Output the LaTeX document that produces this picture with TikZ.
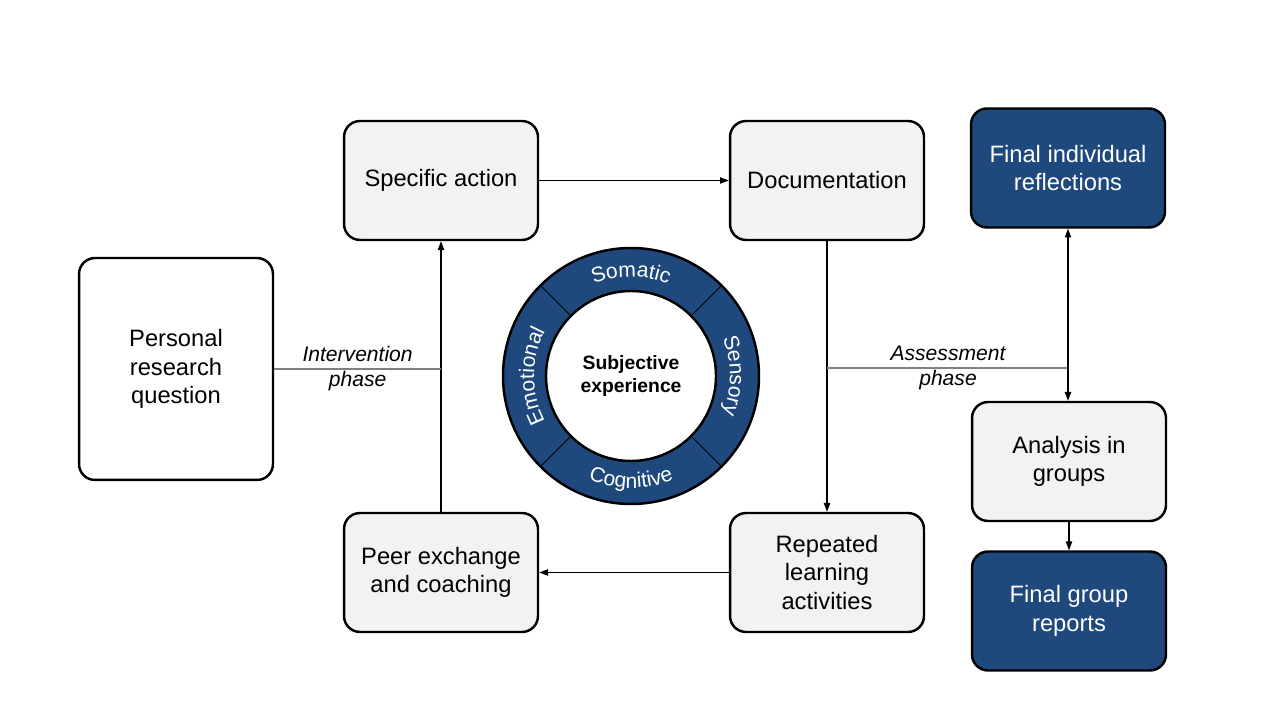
\documentclass[tikz,border=0pt]{standalone}
\usepackage{fontspec}
\setmainfont{Liberation Sans}
\usetikzlibrary{arrows.meta,decorations.text}

\definecolor{navyfill}{RGB}{31,73,125}
\definecolor{boxgray}{RGB}{242,242,242}
\definecolor{phasegray}{RGB}{128,128,128}

\begin{document}
\begin{tikzpicture}[x=0.02cm, y=0.02cm,
		stagebox/.style={draw=black, line width=1.4pt, rounded corners=0.32cm, fill=boxgray,
			minimum width=3.88cm, minimum height=2.38cm, align=center,
			font=\fontsize{13.5}{16.2}\selectfont},
		finalbox/.style={stagebox, fill=navyfill, text=white},
		flow/.style={-{Triangle[length=5pt, width=3.6pt]}, line width=0.6pt},
		phaseline/.style={draw=phasegray, line width=0.9pt},
		phaselabel/.style={align=center, font=\itshape\fontsize{12}{14.2}\selectfont}]
		\useasboundingbox (0,0) rectangle (1280,720);

		\node[stagebox, fill=white, minimum height=4.44cm] (prq) at (176,351) {Personal\\research\\question};
		\node[stagebox] (spec) at (441,539.5) {Specific action};
		\node[stagebox] (doc) at (827,539.5) {Documentation};
		\node[stagebox] (peer) at (441,147.5) {Peer exchange\\and coaching};
		\node[stagebox] (rep) at (827,147.5) {Repeated\\learning\\activities};
		\node[finalbox] (fir) at (1068,552) {Final individual\\reflections};
		\node[stagebox] (ana) at (1069,258.5) {Analysis in\\groups};
		\node[finalbox] (fgr) at (1069,109) {Final group\\reports};

		% ring of experience
		\coordinate (ring) at (631,344);
		\fill[navyfill] (ring) circle[radius=128];
		\draw[line width=1.4pt] (ring) circle[radius=128];
		\filldraw[fill=white, line width=1.4pt] (ring) circle[radius=85];
		\foreach \a in {45,135,225,315}
			\draw[line width=0.5pt] ([shift={(\a:85)}]ring) -- ([shift={(\a:128)}]ring);
		\node[align=center, font=\bfseries\fontsize{11}{13.5}\selectfont] (subj) at (ring) {Subjective\\experience};

		\path[decorate, decoration={text along path, text align=center, text color=white,
			text={|\fontsize{12}{14}\selectfont|Somatic}}]
			([shift={(125:99)}]ring) arc[start angle=125, end angle=55, radius=99];
		\path[decorate, decoration={text along path, text align=center, text color=white,
			text={|\fontsize{12}{14}\selectfont|Sensory}}]
			([shift={(35:99)}]ring) arc[start angle=35, end angle=-35, radius=99];
		\path[decorate, decoration={text along path, text align=center, text color=white,
			text={|\fontsize{12}{14}\selectfont|Cognitive}}]
			([shift={(235:112)}]ring) arc[start angle=235, end angle=305, radius=112];
		\path[decorate, decoration={text along path, text align=center, text color=white,
			text={|\fontsize{12}{14}\selectfont|Emotional}}]
			([shift={(215:97)}]ring) arc[start angle=215, end angle=145, radius=97];

		% cycle
		\draw[flow] (spec.east) -- (doc.west);
		\draw[flow] (doc.south) -- (rep.north);
		\draw[flow] (rep.west) -- (peer.east);
		\draw[flow] (peer.north) -- (spec.south);

		% phases
		\coordinate (ij) at (prq.east -| spec.south);
		\draw[phaseline] (prq.east) -- (ij) node[phaselabel, pos=0.5] {Intervention\\phase};
		\coordinate (aL) at (827,352);
		\coordinate (aR) at (aL -| ana.north);
		\draw[phaseline] (aL) -- (aR) node[phaselabel, pos=0.5] {Assessment\\phase};

		\draw[flow, {Triangle[length=5pt, width=3.6pt]}-{Triangle[length=5pt, width=3.6pt]}] (fir.south) -- (fir.south |- ana.north);
		\draw[flow] (ana.south) -- (fgr.north);
	\end{tikzpicture}
\end{document}
